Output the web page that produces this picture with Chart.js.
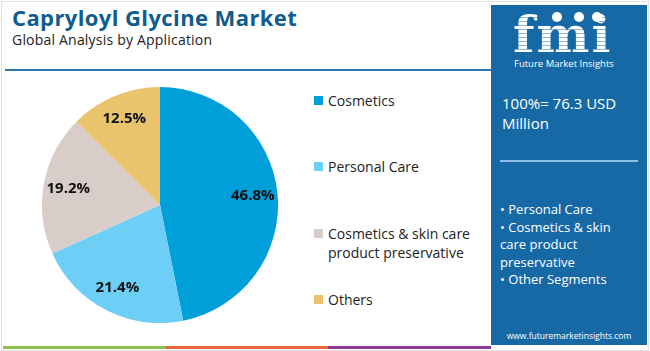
<!DOCTYPE html>
<html>
<head>
<meta charset="utf-8">
<script src="https://cdn.jsdelivr.net/npm/chart.js@4.4.1/dist/chart.umd.min.js"></script>
<style>
  html, body { margin: 0; padding: 0; background: #fff; }
  body { width: 650px; height: 351px; position: relative; overflow: hidden; font-family: "Open Sans", sans-serif; }
  #frame { position: absolute; left: 1px; top: 1px; width: 646px; height: 348px; border: 1px solid #e2e2e2; }
  #title { position: absolute; left: 12px; top: 2px; font-size: 22px; font-weight: 700; color: #0f5c8e; letter-spacing: 0.4px; }
  #subtitle { position: absolute; left: 12px; top: 30px; font-size: 14px; color: #222; letter-spacing: 0.2px; }
  #rule { position: absolute; left: 5px; top: 69px; width: 486px; height: 2px; background: #2f79b3; }
  #chartBox { position: absolute; left: 42px; top: 87px; width: 236px; height: 236px; }
  #legend { position: absolute; left: 314px; top: 0; }
  .item { position: absolute; left: 0; width: 180px; font-size: 14px; color: #222; line-height: 19px; padding-left: 14px; }
  .item i { position: absolute; left: 0; top: 5px; width: 9px; height: 9px; }
  #panel { position: absolute; left: 491px; top: 5px; width: 156px; height: 340px; background: #1769a6; color: #fff; }
  #logo { position: absolute; left: 22px; top: 5px; font-family: "DejaVu Serif", serif; font-weight: 700; font-size: 50px; line-height: 50px;
          background: repeating-linear-gradient(#fff 0 3px, #8fb6d6 3px 4px); -webkit-background-clip: text; background-clip: text; color: transparent; letter-spacing: 2px; }
  .dot { position: absolute; width: 10px; height: 10px; border-radius: 50%; background: #fff; }
  #fmiName { position: absolute; left: 23px; top: 52px; font-size: 9.5px; color: #fff; }
  #total { position: absolute; left: 11px; top: 88px; font-size: 15px; line-height: 20px; }
  #sep { position: absolute; left: 9px; top: 155px; width: 138px; height: 2px; background: #8ec0e6; }
  #segs { position: absolute; left: 9px; top: 196px; font-size: 13px; line-height: 17.6px; }
  #url { position: absolute; left: 0; width: 156px; text-align: center; top: 325px; font-size: 8.5px; }
  .strip { position: absolute; top: 346px; height: 3px; }
</style>
</head>
<body>
<div id="frame"></div>
<div id="title">Capryloyl Glycine Market</div>
<div id="subtitle">Global Analysis by Application</div>
<div id="rule"></div>
<div id="chartBox"><canvas id="pie" width="236" height="236"></canvas></div>
<div id="legend"></div>
<div id="panel">
  <div id="logo">fmi</div>
  <div class="dot" style="left:61px;top:7px"></div>
  <div class="dot" style="left:83px;top:7px"></div>
  <div class="dot" style="left:101px;top:7px"></div>
  <div id="fmiName">Future Market Insights</div>
  <div id="total">100%= 76.3 USD<br>Million</div>
  <div id="sep"></div>
  <div id="segs">• Personal Care<br>• Cosmetics &amp; skin<br>care product<br>preservative<br>• Other Segments</div>
  <div id="url">www.futuremarketinsights.com</div>
</div>
<div class="strip" style="left:3px;width:163px;background:#8cc04b"></div>
<div class="strip" style="left:166px;width:162px;background:#e8643c"></div>
<div class="strip" style="left:328px;width:163px;background:#8e3a97"></div>
<script>
const categories = ['Cosmetics', 'Personal Care', 'Cosmetics & skin care product preservative', 'Others']
const legendLines = [['Cosmetics'], ['Personal Care'], ['Cosmetics & skin care', 'product preservative'], ['Others']]
const shares = [46.8, 21.4, 19.2, 12.5]
const colors = ['#009fd9', '#6dcff5', '#d8cdc9', '#e9c46d']
const legendTops = [91, 157, 224, 290]

// legend in html
const legend = document.getElementById('legend')
categories.forEach((c, i) => {
  const d = document.createElement('div')
  d.className = 'item'
  d.style.top = legendTops[i] + 'px'
  d.innerHTML = '<i style="background:' + colors[i] + '"></i>' + legendLines[i].join('<br>')
  legend.appendChild(d)
})

// percent labels at ~0.79 of radius
const sliceLabels = {
  id: 'sliceLabels',
  afterDatasetsDraw(chart) {
    const ctx = chart.ctx
    const meta = chart.getDatasetMeta(0)
    ctx.save()
    ctx.font = 'bold 15px "Open Sans"'
    ctx.fillStyle = '#111'
    ctx.textAlign = 'center'
    ctx.textBaseline = 'middle'
    meta.data.forEach((arc, i) => {
      const a = (arc.startAngle + arc.endAngle) / 2
      const r = arc.outerRadius * 0.79
      ctx.fillText(shares[i].toFixed(1) + '%', arc.x + Math.cos(a) * r, arc.y + Math.sin(a) * r)
    })
    ctx.restore()
  }
}

new Chart(document.getElementById('pie').getContext('2d'), {
  type: 'pie',
  data: {
    labels: categories,
    datasets: [{ data: shares, backgroundColor: colors, borderWidth: 0 }]
  },
  options: {
    responsive: false,
    animation: false,
    layout: { padding: 0 },
    plugins: { legend: { display: false }, tooltip: { enabled: false } }
  },
  plugins: [sliceLabels]
})
</script>
</body>
</html>
